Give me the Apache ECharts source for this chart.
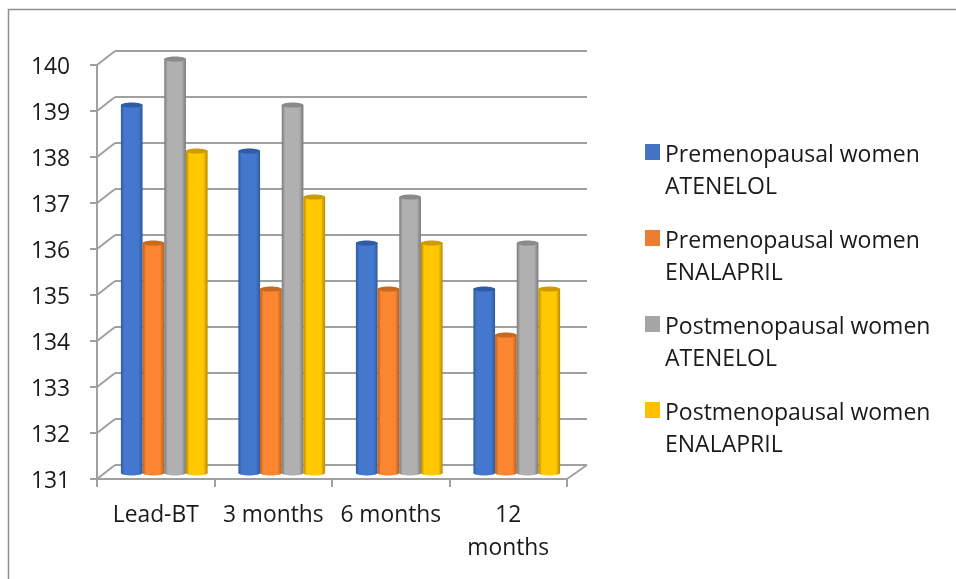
<!DOCTYPE html>
<html><head><meta charset="utf-8">
<style>html,body{margin:0;padding:0;background:#fff}#c{width:956px;height:579px}</style>
<script src="https://cdn.jsdelivr.net/npm/echarts@6/dist/echarts.min.js"></script>
</head><body><div id="c"></div>
<script>
const categories = ['Lead-BT', '3 months', '6 months', '12\nmonths'];
const preAtenelol = [139, 138, 136, 135];
const preEnalapril = [136, 135, 135, 134];
const postAtenelol = [140, 139, 137, 136];
const postEnalapril = [138, 137, 136, 135];
const yMin = 131, yMax = 140, yStep = 1;
const seriesNames = ['Premenopausal women ATENELOL','Premenopausal women ENALAPRIL','Postmenopausal women ATENELOL','Postmenopausal women ENALAPRIL'];
const seriesValues = [preAtenelol, preEnalapril, postAtenelol, postEnalapril];
const palette = [
  {edge:'#2f5a9e', mid:'#4478cf', top:'#2f5ca6', key:'#4472c4'},
  {edge:'#b85f1e', mid:'#fb8530', top:'#c9691f', key:'#ed7d31'},
  {edge:'#7a7a7a', mid:'#b0b0b0', top:'#8a8a8a', key:'#a5a5a5'},
  {edge:'#b88a00', mid:'#ffc800', top:'#cf9c00', key:'#ffc000'}
];
const DX = 18, DY = -14;           // depth of the pseudo-3D box
const BX = 8.5, BY = -6;           // bars stand in the middle of the floor
const GRID = '#a0a0a0';
const FONT = 'Open Sans', INK = '#1a1a1a';

const chart = echarts.init(document.getElementById('c'), null, {renderer:'canvas'});

function wallRender(params, api){
  const v = api.value(0);
  const p0 = api.coord([0, v]);
  const size = api.size([1, 0]);
  const x0 = p0[0] - size[0]/2, x1 = x0 + size[0]*categories.length, y = p0[1];
  const line = (a,b,c,d)=>({type:'line',shape:{x1:a,y1:b,x2:c,y2:d},style:{stroke:GRID,lineWidth:2}});
  const kids = [line(x0,y,x0+DX,y+DY), line(x0+DX,y+DY,x1+DX+2,y+DY)];
  if (v === yMin) kids.push(line(x1,y,x1+DX+2,y+DY));
  return {type:'group',children:kids};
}

function barRender(idx){
  return function(params, api){
    const cat = api.value(0), v = api.value(1);
    const base = api.coord([cat, yMin]), top = api.coord([cat, v]);
    const band = api.size([1,0])[0];
    const w = band * 0.1845;
    const cx = base[0] + BX + (idx - 1.5) * w;
    const x = cx - w/2, yb = base[1] + BY, yt = top[1] + BY;
    const c = palette[idx];
    const fill = new echarts.graphic.LinearGradient(0,0,1,0,[
      {offset:0,color:c.edge},{offset:0.16,color:c.mid},{offset:0.8,color:c.mid},{offset:1,color:c.edge}
    ]);
    return {type:'group',children:[
      {type:'ellipse',shape:{cx:cx,cy:yb,rx:w/2,ry:2.5},style:{fill:fill}},
      {type:'rect',shape:{x:x,y:yt,width:w,height:yb-yt},style:{fill:fill}},
      {type:'ellipse',shape:{cx:cx,cy:yt,rx:w/2,ry:2.6},style:{fill:c.top}}
    ]};
  };
}

const yTicks = [];
for (let t = yMin; t <= yMax; t += yStep) yTicks.push([t]);

chart.setOption({
  animation:false,
  backgroundColor:'#fff',
  graphic:[
    {type:'polyline',silent:true,shape:{points:[[8.5,579],[8.5,9.5],[956,9.5]]},style:{stroke:'#8f8f8f',fill:null,lineWidth:1.5}}
  ],
  legend:{
    orient:'vertical',left:640,top:96,itemWidth:15,itemHeight:16,itemGap:-16,icon:'rect',
    selectedMode:false,
    data:seriesNames.map((n,i)=>({name:n,itemStyle:{color:palette[i].key}})),
    formatter:n=>'{gap| }\n{t|'+n.replace(' women ',' women}\n{t|')+'}',
    textStyle:{fontFamily:FONT,fontSize:23,color:INK,lineHeight:32,
      rich:{
        gap:{fontSize:10,lineHeight:38,height:38},
        t:{fontFamily:FONT,fontSize:23,color:INK,lineHeight:32,height:32}
      }}
  },
  grid:{left:97,top:65,width:470,height:414},
  xAxis:{type:'category',data:categories,
    axisLine:{show:true,lineStyle:{color:GRID,width:2}},
    axisTick:{show:true,length:8,lineStyle:{color:GRID,width:2}},
    axisLabel:{fontFamily:FONT,fontSize:22.8,color:INK,margin:20,lineHeight:33,interval:0},
    splitLine:{show:false}},
  yAxis:{type:'value',min:yMin,max:yMax,interval:yStep,
    axisLine:{show:true,lineStyle:{color:GRID,width:2}},
    axisTick:{show:true,length:7,lineStyle:{color:GRID,width:2}},
    axisLabel:{fontFamily:FONT,fontSize:22.8,color:INK,margin:27,verticalAlign:'top',lineHeight:24,padding:[-9,0,0,0]},
    splitLine:{show:false}},
  series:[
    {type:'custom',name:'walls',silent:true,data:yTicks,encode:{y:0},renderItem:wallRender,z:1,clip:false}
  ].concat(seriesNames.map((n,i)=>({
    type:'custom',name:n,coordinateSystem:'cartesian2d',
    data:seriesValues[i].map((v,k)=>[k,v]),
    encode:{x:0,y:1},renderItem:barRender(i),z:2+i,clip:false,
    itemStyle:{color:palette[i].key}
  })))
});
</script></body></html>
